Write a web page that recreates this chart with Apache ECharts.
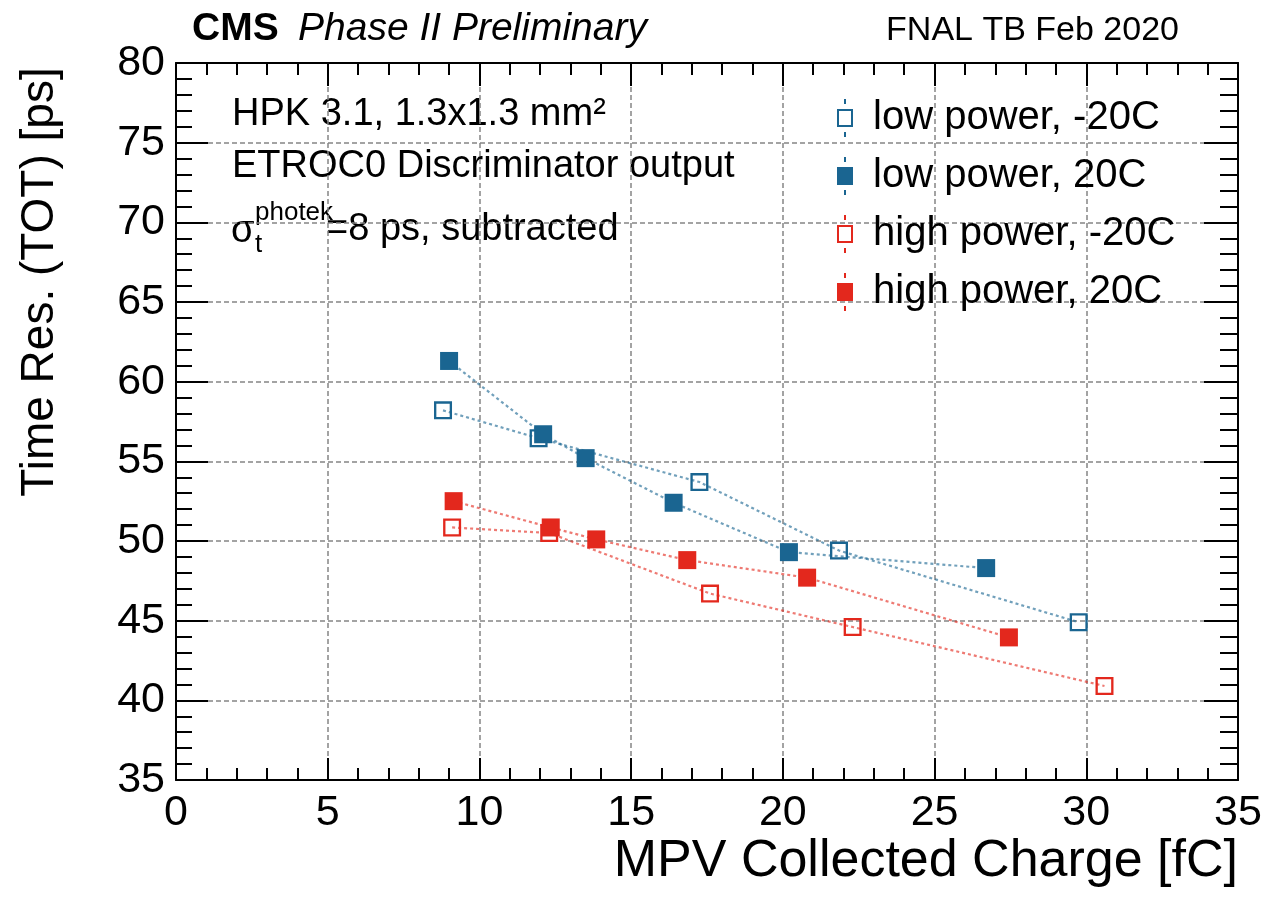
<!DOCTYPE html>
<html>
<head>
<meta charset="utf-8">
<title>Time resolution vs collected charge</title>
<script src="https://cdn.jsdelivr.net/npm/echarts@6/dist/echarts.min.js"></script>
<style>
  html, body { margin: 0; padding: 0; background: #ffffff; }
  #chart { width: 1286px; height: 898px; }
</style>
</head>
<body>
<div id="chart"></div>
<script>
// Measured points: MPV collected charge [fC] and time resolution [ps]
const lowPowerMinus20X = [8.8, 11.95, 17.25, 21.85, 29.75];
const lowPowerMinus20Y = [58.2, 56.45, 53.7, 49.4, 44.9];
const lowPowerPlus20X = [9.0, 12.1, 13.5, 16.4, 20.2, 26.7];
const lowPowerPlus20Y = [61.3, 56.7, 55.2, 52.4, 49.3, 48.3];
const highPowerMinus20X = [9.1, 12.3, 17.6, 22.3, 30.6];
const highPowerMinus20Y = [50.85, 50.5, 46.7, 44.6, 40.9];
const highPowerPlus20X = [9.15, 12.35, 13.85, 16.85, 20.8, 27.45];
const highPowerPlus20Y = [52.5, 50.85, 50.1, 48.8, 47.7, 43.95];

const seriesNames = ['low power, -20C', 'low power, 20C', 'high power, -20C', 'high power, 20C'];

const xRange = [0, 35];
const yRange = [35, 80];
const tickStep = 5;

const BLUE = '#1a6591';
const RED = '#e3281d';
const BLUE_LINE = 'rgba(26,101,145,0.62)';
const RED_LINE = 'rgba(227,40,29,0.62)';
const FONT = '"Liberation Sans", Arial, Helvetica, sans-serif';

// Marker shapes: solid square and hollow square (hole via reversed winding)
const SQUARE_FULL = 'path://M0 0H17V17H0Z';
const SQUARE_OPEN = 'path://M0 0H17V17H0Z M2.2 2.2V14.8H14.8V2.2Z';
// Legend icons: square with small error-bar stubs above and below, padded on the right
const LEG_FULL = 'path://M0 10H16V28H0Z M7 0H9V5H7Z M7 33H9V38H7Z M31 0';
const LEG_OPEN = 'path://M0 10H16V28H0Z M2 12V26H14V12Z M7 0H9V5H7Z M7 33H9V38H7Z M31 0';

function pairs(xs, ys) {
  return xs.map((x, i) => [x, ys[i]]);
}

function makeSeries(name, xs, ys, color, lineColor, symbol) {
  return {
    name: name,
    type: 'line',
    data: pairs(xs, ys),
    symbol: symbol,
    symbolSize: 18,
    showSymbol: true,
    z: 5,
    itemStyle: { color: color, borderWidth: 0 },
    lineStyle: { color: lineColor, width: 2.2, type: [3, 3] },
    emphasis: { disabled: true },
    animation: false
  };
}

const gridLine = { show: true, lineStyle: { color: '#858585', width: 1.5, type: [5, 3] } };
const frameLine = { show: true, onZero: false, lineStyle: { color: '#000', width: 2 } };

const chart = echarts.init(document.getElementById('chart'), null, { renderer: 'canvas' });

const option = {
  backgroundColor: '#ffffff',
  animation: false,
  textStyle: { fontFamily: FONT },
  grid: { left: 176, top: 63, width: 1062, height: 717, containLabel: false },
  xAxis: [
    {
      type: 'value', position: 'bottom', min: xRange[0], max: xRange[1], interval: tickStep,
      axisLine: frameLine,
      axisTick: { show: true, inside: true, length: 22, lineStyle: { color: '#000', width: 2 } },
      minorTick: { show: true, splitNumber: 5, length: 12, lineStyle: { color: '#000', width: 2 } },
      axisLabel: { show: true, fontSize: 43, color: '#000', margin: 12, fontFamily: FONT },
      splitLine: gridLine
    },
    {
      type: 'value', position: 'top', min: xRange[0], max: xRange[1], interval: tickStep,
      axisLine: frameLine,
      axisTick: { show: true, inside: true, length: 23, lineStyle: { color: '#000', width: 2 } },
      minorTick: { show: true, splitNumber: 5, length: 12, lineStyle: { color: '#000', width: 2 } },
      axisLabel: { show: false },
      splitLine: { show: false }
    }
  ],
  yAxis: [
    {
      type: 'value', position: 'left', min: yRange[0], max: yRange[1], interval: tickStep,
      axisLine: frameLine,
      axisTick: { show: true, inside: true, length: 32, lineStyle: { color: '#000', width: 2 } },
      minorTick: { show: true, splitNumber: 5, length: 16, lineStyle: { color: '#000', width: 2 } },
      axisLabel: { show: true, fontSize: 43, color: '#000', margin: 11, fontFamily: FONT },
      splitLine: gridLine
    },
    {
      type: 'value', position: 'right', min: yRange[0], max: yRange[1], interval: tickStep,
      axisLine: frameLine,
      axisTick: { show: true, inside: true, length: 34, lineStyle: { color: '#000', width: 2 } },
      minorTick: { show: true, splitNumber: 5, length: 18, lineStyle: { color: '#000', width: 2 } },
      axisLabel: { show: false },
      splitLine: { show: false }
    }
  ],
  legend: {
    orient: 'vertical',
    left: 837,
    top: 98,
    padding: 0,
    itemGap: 18,
    itemWidth: 31,
    itemHeight: 38,
    selectedMode: false,
    textStyle: { fontSize: 40, color: '#000', fontFamily: FONT, lineHeight: 40 },
    data: [
      { name: seriesNames[0], icon: LEG_OPEN, itemStyle: { color: BLUE, borderWidth: 0 } },
      { name: seriesNames[1], icon: LEG_FULL, itemStyle: { color: BLUE, borderWidth: 0 } },
      { name: seriesNames[2], icon: LEG_OPEN, itemStyle: { color: RED, borderWidth: 0 } },
      { name: seriesNames[3], icon: LEG_FULL, itemStyle: { color: RED, borderWidth: 0 } }
    ]
  },
  series: [
    makeSeries(seriesNames[0], lowPowerMinus20X, lowPowerMinus20Y, BLUE, BLUE_LINE, SQUARE_OPEN),
    makeSeries(seriesNames[1], lowPowerPlus20X, lowPowerPlus20Y, BLUE, BLUE_LINE, SQUARE_FULL),
    makeSeries(seriesNames[2], highPowerMinus20X, highPowerMinus20Y, RED, RED_LINE, SQUARE_OPEN),
    makeSeries(seriesNames[3], highPowerPlus20X, highPowerPlus20Y, RED, RED_LINE, SQUARE_FULL)
  ],
  graphic: [
    // Header
    { type: 'text', left: 192, top: 10, style: { text: 'CMS', font: 'bold 39px ' + FONT, fill: '#000' } },
    { type: 'text', left: 298, top: 10, style: { text: 'Phase II Preliminary', font: 'italic 39px ' + FONT, fill: '#000' } },
    { type: 'text', x: 1179, y: 31, style: { text: 'FNAL TB Feb 2020', font: '34px ' + FONT, fill: '#000', align: 'right', verticalAlign: 'middle' } },
    // Sample description
    { type: 'text', x: 232, y: 115, style: { text: 'HPK 3.1, 1.3x1.3 mm\u00B2', font: '38px ' + FONT, fill: '#000', verticalAlign: 'middle' } },
    { type: 'text', x: 232, y: 167, style: { text: 'ETROC0 Discriminator output', font: '38px ' + FONT, fill: '#000', verticalAlign: 'middle' } },
    { type: 'text', x: 231, y: 232, style: { text: '\u03C3', font: '38px ' + FONT, fill: '#000', verticalAlign: 'middle' } },
    { type: 'text', x: 255, y: 213, style: { text: 'photek', font: '26px ' + FONT, fill: '#000', verticalAlign: 'middle' } },
    { type: 'text', x: 255, y: 245, style: { text: 't', font: '26px ' + FONT, fill: '#000', verticalAlign: 'middle' } },
    { type: 'text', x: 326, y: 230, style: { text: '=8 ps, subtracted', font: '38px ' + FONT, fill: '#000', verticalAlign: 'middle' } },
    // Axis titles
    { type: 'text', x: 1238, y: 862, style: { text: 'MPV Collected Charge [fC]', font: '52px ' + FONT, fill: '#000', align: 'right', verticalAlign: 'middle' } },
    { type: 'text', x: 40, y: 282, rotation: Math.PI / 2, style: { text: 'Time Res. (TOT) [ps]', font: '46px ' + FONT, fill: '#000', align: 'center', verticalAlign: 'middle' } }
  ]
};

chart.setOption(option);
</script>
</body>
</html>
